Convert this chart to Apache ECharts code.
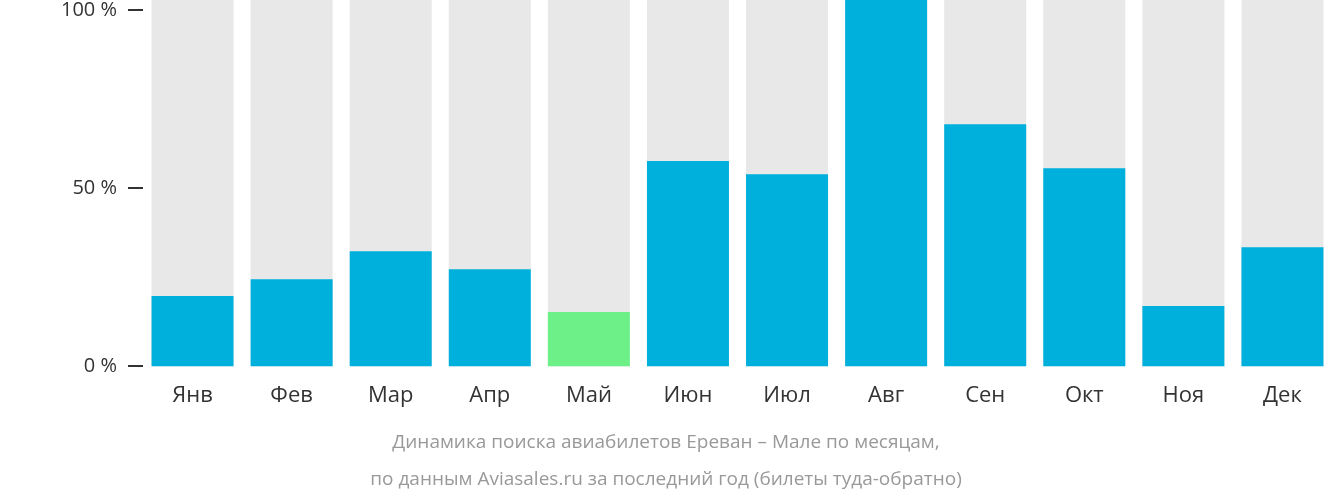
<!DOCTYPE html>
<html><head><meta charset="utf-8">
<script src="https://cdn.jsdelivr.net/npm/echarts@6/dist/echarts.min.js"></script>
<style>html,body{margin:0;padding:0;background:#fff}#c{width:1332px;height:502px}</style>
</head><body><div id="c"></div>
<script>
var months = ['Янв','Фев','Мар','Апр','Май','Июн','Июл','Авг','Сен','Окт','Ноя','Дек'];
var values = [19.6, 24.3, 32.1, 27.1, 15.1, 57.3, 53.6, 102.3, 67.6, 55.3, 16.8, 33.2];
var lowest = 'Май';
var title1 = 'Динамика поиска авиабилетов Ереван – Мале по месяцам,';
var title2 = 'по данным Aviasales.ru за последний год (билеты туда-обратно)';

var chart = echarts.init(document.getElementById('c'));
var font = '"Open Sans", "Noto Sans", sans-serif';
chart.setOption({
  animation: false,
  textStyle: {fontFamily: font},
  title: [
    {text: title1, left: 'center', top: 428, textStyle: {fontSize: 19, fontWeight: 'normal', color: '#999', fontFamily: font}},
    {text: title2, left: 'center', top: 465, textStyle: {fontSize: 19, fontWeight: 'normal', color: '#999', fontFamily: font}}
  ],
  grid: [
    {left: 143, right: -11, top: 0, bottom: 128},
    {left: 143, right: -11, top: 8, bottom: 136}
  ],
  xAxis: [
    {type: 'category', data: months, gridIndex: 0, axisLine: {show: false}, axisTick: {show: false},
     axisLabel: {fontSize: 22, color: '#333', margin: 11}},
    {type: 'category', data: months, gridIndex: 1, show: false}
  ],
  yAxis: [
    {type: 'value', gridIndex: 0, min: -2.2, max: 102.3, show: false},
    {type: 'value', gridIndex: 1, min: 0, max: 100, interval: 50, splitLine: {show: false},
     axisLine: {show: false}, axisTick: {show: true, length: 15, lineStyle: {color: '#333', width: 2}},
     axisLabel: {fontSize: 20, color: '#333', margin: 26, formatter: '{value} %'}},
    {type: 'value', gridIndex: 1, min: 0, max: 100, interval: 10, splitLine: {show: false},
     axisLine: {show: false}, axisTick: {show: true, length: 5, lineStyle: {color: '#333', width: 2}},
     axisLabel: {show: false}}
  ],
  series: [
    {type: 'bar', xAxisIndex: 0, yAxisIndex: 0, barWidth: 82, silent: true,
     data: months.map(function(){return 102.3;}), itemStyle: {color: '#e8e8e8'}},
    {type: 'bar', xAxisIndex: 0, yAxisIndex: 0, barWidth: 82, barGap: '-100%',
     data: values.map(function(v, i){
       return {value: v, itemStyle: {color: months[i] === lowest ? '#6cf087' : '#00b0dc'}};
     })}
  ]
});
</script></body></html>
